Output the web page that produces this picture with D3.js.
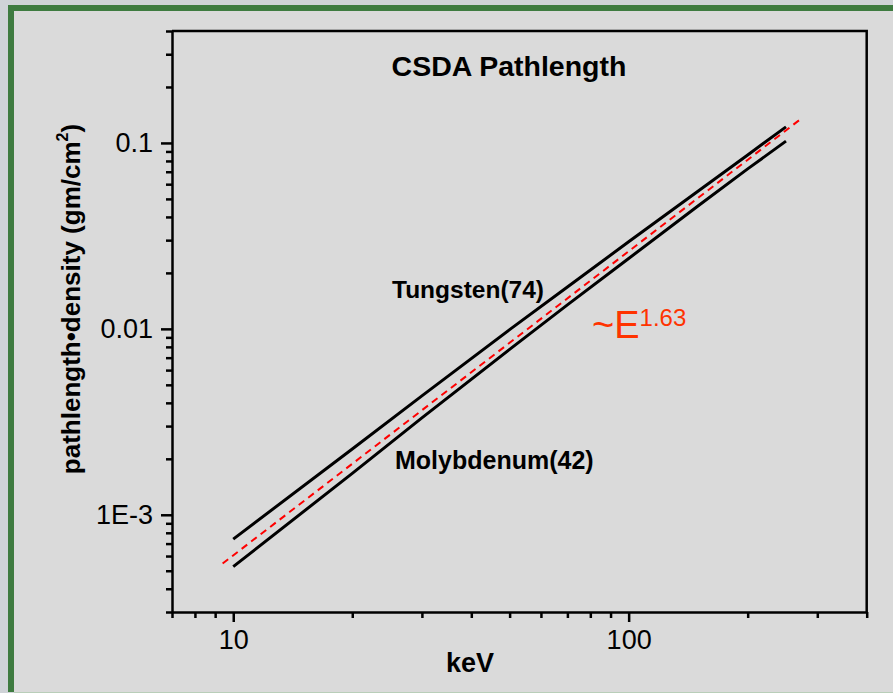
<!DOCTYPE html>
<html>
<head>
<meta charset="utf-8">
<script src="https://cdn.jsdelivr.net/npm/d3@7"></script>
<style>
  body { margin: 0; background: #cfd3d7; }
  svg { display: block; }
</style>
</head>
<body>
<div id="chart"></div>
<script>
// values (keV vs g/cm^2)
const energies = [10, 20, 30, 50, 70, 100, 150, 200, 250];
const tungsten = [7.4e-4, 2.26e-3, 4.36e-3, 9.9e-3, 1.68e-2, 2.94e-2, 5.52e-2, 8.62e-2, 0.122];
const molybdenum = [5.26e-4, 1.67e-3, 3.32e-3, 7.75e-3, 1.346e-2, 2.39e-2, 4.59e-2, 7.25e-2, 0.1023];
const fitEnergies = [9.4, 274];
const fitValues = [5.47e-4, 0.1358];

const xMajorTicks = [10, 100];
const xMinorTicks = [7, 8, 9, 20, 30, 40, 50, 60, 70, 80, 90, 200, 300, 400];
const yMajorTicks = [1e-3, 0.01, 0.1];
const yTickLabels = ["1E-3", "0.01", "0.1"];
const yMinorTicks = [3e-4, 4e-4, 5e-4, 6e-4, 7e-4, 8e-4, 9e-4,
  2e-3, 3e-3, 4e-3, 5e-3, 6e-3, 7e-3, 8e-3, 9e-3,
  0.02, 0.03, 0.04, 0.05, 0.06, 0.07, 0.08, 0.09, 0.2, 0.3, 0.4];

const width = 893, height = 693;
const plot = { left: 172, right: 866.7, top: 31, bottom: 612 };
const font = "Liberation Sans, Arial, sans-serif";

const svg = d3.select("#chart").append("svg")
  .attr("width", width)
  .attr("height", height);

// page background with the green frame
svg.append("rect").attr("width", width).attr("height", height).attr("fill", "#cfd3d7");
svg.append("rect").attr("x", 8).attr("y", 5).attr("width", width - 8).attr("height", height - 6)
  .attr("fill", "#3e7b40");
svg.append("rect").attr("x", 14).attr("y", 11).attr("width", width - 14).attr("height", height - 12)
  .attr("fill", "#dadada");
svg.append("line").attr("x1", 14).attr("x2", width).attr("y1", 692.5).attr("y2", 692.5)
  .attr("stroke", "#b9ceb9").attr("stroke-width", 1);

const x = d3.scaleLog().domain([7, 400]).range([plot.left, plot.right]);
const y = d3.scaleLog().domain([3e-4, 0.4]).range([plot.bottom, plot.top]);

// frame: top and right sides without ticks
svg.append("path")
  .attr("d", `M${plot.left},${plot.top}H${plot.right}V${plot.bottom}`)
  .attr("fill", "none").attr("stroke", "#000").attr("stroke-width", 2.5);

// x axis
svg.append("g")
  .attr("transform", `translate(0,${plot.bottom})`)
  .call(d3.axisBottom(x).tickValues(xMajorTicks).tickSize(10).tickSizeOuter(0).tickPadding(8)
    .tickFormat(d3.format("d")));
svg.append("g")
  .attr("transform", `translate(0,${plot.bottom})`)
  .call(d3.axisBottom(x).tickValues(xMinorTicks).tickSize(6).tickSizeOuter(0).tickFormat(""))
  .call(g => g.select(".domain").remove());

// y axis
svg.append("g")
  .attr("transform", `translate(${plot.left},0)`)
  .call(d3.axisLeft(y).tickValues(yMajorTicks).tickSize(11).tickSizeOuter(0).tickPadding(8)
    .tickFormat((d, i) => yTickLabels[i]));
svg.append("g")
  .attr("transform", `translate(${plot.left},0)`)
  .call(d3.axisLeft(y).tickValues(yMinorTicks).tickSize(6).tickSizeOuter(0).tickFormat(""))
  .call(g => g.select(".domain").remove());

svg.selectAll(".domain").attr("stroke", "#000").attr("stroke-width", 2.5);
svg.selectAll(".tick line").attr("stroke", "#000").attr("stroke-width", 2.5);
svg.selectAll(".tick text")
  .attr("fill", "#000")
  .style("font-family", font)
  .style("font-size", "27px");

// curves
const line = d3.line()
  .x(d => x(d[0]))
  .y(d => y(d[1]));

svg.append("path")
  .datum(energies.map((e, i) => [e, tungsten[i]]))
  .attr("d", line)
  .attr("fill", "none").attr("stroke", "#000").attr("stroke-width", 3);

svg.append("path")
  .datum(energies.map((e, i) => [e, molybdenum[i]]))
  .attr("d", line)
  .attr("fill", "none").attr("stroke", "#000").attr("stroke-width", 3);

svg.append("path")
  .datum(fitEnergies.map((e, i) => [e, fitValues[i]]))
  .attr("d", line)
  .attr("fill", "none").attr("stroke", "#ff0000").attr("stroke-width", 2)
  .attr("stroke-dasharray", "7,5");

// labels
svg.append("text")
  .attr("x", 509).attr("y", 76)
  .attr("text-anchor", "middle")
  .style("font-family", font).style("font-size", "28.5px").style("font-weight", "bold")
  .text("CSDA Pathlength");

svg.append("text")
  .attr("x", 392).attr("y", 298)
  .style("font-family", font).style("font-size", "24.5px").style("font-weight", "bold")
  .text("Tungsten(74)");

svg.append("text")
  .attr("x", 395).attr("y", 469)
  .style("font-family", font).style("font-size", "25px").style("font-weight", "bold")
  .text("Molybdenum(42)");

const fitLabel = svg.append("text")
  .attr("x", 592).attr("y", 338)
  .attr("fill", "#ff3300")
  .style("font-family", font).style("font-size", "38px");
fitLabel.append("tspan").text("~E");
fitLabel.append("tspan").attr("dy", -12).style("font-size", "24px").text("1.63");

svg.append("text")
  .attr("x", 470).attr("y", 672)
  .attr("text-anchor", "middle")
  .style("font-family", font).style("font-size", "27px").style("font-weight", "bold")
  .text("keV");

const yLabel = svg.append("text")
  .attr("transform", `translate(80,${(128 + 470) / 2}) rotate(-90)`)
  .attr("text-anchor", "middle")
  .style("font-family", font).style("font-size", "26px").style("font-weight", "bold");
yLabel.append("tspan").text("pathlength•density (gm/cm");
yLabel.append("tspan").attr("dy", -12).style("font-size", "16px").text("2");
yLabel.append("tspan").attr("dy", 12).text(")");
</script>
</body>
</html>
